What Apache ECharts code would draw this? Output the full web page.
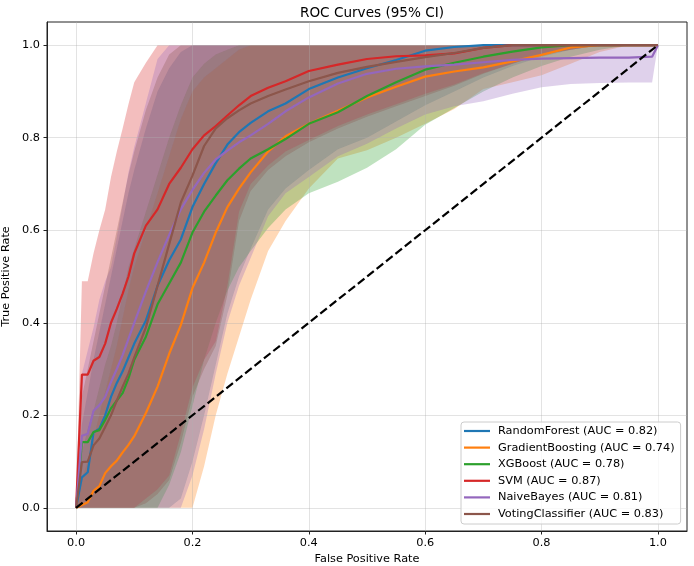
<!DOCTYPE html>
<html>
<head>
<meta charset="utf-8">
<script src="https://cdn.jsdelivr.net/npm/echarts@6/dist/echarts.min.js"></script>
<style>
  html, body { margin: 0; padding: 0; background: #fff; }
  #chart { width: 694px; height: 566px; }
</style>
</head>
<body>
<div id="chart"></div>
<script>
// common false positive rate grid
const fpr = [0, 0.01, 0.02, 0.03, 0.04, 0.05, 0.06, 0.07, 0.08, 0.09, 0.1, 0.12, 0.14, 0.16, 0.18, 0.2,
  0.22, 0.24, 0.26, 0.28, 0.3, 0.33, 0.36, 0.4, 0.45, 0.5, 0.55, 0.6, 0.65, 0.7, 0.75, 0.8, 0.85, 0.9, 0.95, 0.99, 1.0]

const models = ['RandomForest', 'GradientBoosting', 'XGBoost', 'SVM', 'NaiveBayes', 'VotingClassifier']
const aucs = [0.82, 0.74, 0.78, 0.87, 0.81, 0.83]

// mean TPR
const rfMean = [0, 0.066, 0.077, 0.163, 0.171, 0.20, 0.24, 0.27, 0.295, 0.325, 0.355, 0.405, 0.48, 0.535, 0.58, 0.65,
  0.70, 0.745, 0.785, 0.812, 0.832, 0.857, 0.874, 0.905, 0.93, 0.95, 0.968, 0.988, 0.996, 1, 1, 1, 1, 1, 1, 1, 1]
const gbMean = [0, 0.006, 0.012, 0.037, 0.047, 0.075, 0.09, 0.102, 0.12, 0.136, 0.155, 0.205, 0.262, 0.333, 0.395, 0.475,
  0.53, 0.595, 0.65, 0.69, 0.725, 0.77, 0.803, 0.83, 0.858, 0.887, 0.91, 0.932, 0.943, 0.952, 0.965, 0.979, 0.995, 1, 1, 1, 1]
const xgbMean = [0, 0.142, 0.142, 0.164, 0.168, 0.19, 0.215, 0.232, 0.248, 0.28, 0.32, 0.37, 0.44, 0.485, 0.53, 0.595,
  0.64, 0.675, 0.708, 0.733, 0.755, 0.775, 0.797, 0.83, 0.855, 0.89, 0.92, 0.947, 0.962, 0.975, 0.986, 0.995, 1, 1, 1, 1, 1]
const svmMean = [0, 0.288, 0.288, 0.318, 0.326, 0.355, 0.40, 0.43, 0.463, 0.50, 0.55, 0.61, 0.645, 0.70, 0.735, 0.775,
  0.805, 0.825, 0.848, 0.87, 0.89, 0.908, 0.922, 0.944, 0.958, 0.97, 0.976, 0.978, 0.982, 0.994, 1, 1, 1, 1, 1, 1, 1]
const nbMean = [0, 0.156, 0.16, 0.21, 0.222, 0.24, 0.272, 0.30, 0.33, 0.365, 0.40, 0.468, 0.531, 0.59, 0.645, 0.687,
  0.724, 0.753, 0.772, 0.79, 0.805, 0.83, 0.857, 0.887, 0.917, 0.938, 0.949, 0.954, 0.958, 0.963, 0.968, 0.971, 0.972, 0.973, 0.973, 0.975, 1]
const voteMean = [0, 0.099, 0.10, 0.135, 0.15, 0.175, 0.20, 0.232, 0.262, 0.29, 0.325, 0.39, 0.48, 0.57, 0.66, 0.718,
  0.782, 0.82, 0.842, 0.859, 0.874, 0.89, 0.904, 0.922, 0.94, 0.953, 0.964, 0.974, 0.983, 0.994, 1, 1, 1, 1, 1, 1, 1]

// 95% CI lower / upper
const rfLow = [0, 0, 0, 0, 0, 0, 0, 0, 0, 0, 0, 0, 0, 0, 0.02, 0.1,
  0.2, 0.31, 0.42, 0.5, 0.56, 0.645, 0.69, 0.73, 0.775, 0.8, 0.835, 0.87, 0.9, 0.93, 0.955, 0.975, 0.99, 1, 1, 1, 1]
const rfHigh = [0, 0.18, 0.25, 0.32, 0.38, 0.44, 0.5, 0.56, 0.62, 0.68, 0.73, 0.82, 0.9, 0.95, 0.985, 1,
  1, 1, 1, 1, 1, 1, 1, 1, 1, 1, 1, 1, 1, 1, 1, 1, 1, 1, 1, 1, 1]
const gbLow = [0, 0, 0, 0, 0, 0, 0, 0, 0, 0, 0, 0, 0, 0, 0, 0,
  0.09, 0.2, 0.29, 0.37, 0.45, 0.555, 0.62, 0.69, 0.755, 0.773, 0.8, 0.83, 0.862, 0.905, 0.92, 0.935, 0.96, 0.985, 1, 1, 1]
const gbHigh = [0, 0.06, 0.1, 0.15, 0.2, 0.25, 0.3, 0.35, 0.41, 0.47, 0.52, 0.6, 0.68, 0.76, 0.84, 0.9,
  0.93, 0.95, 0.97, 0.99, 1, 1, 1, 1, 1, 1, 1, 1, 1, 1, 1, 1, 1, 1, 1, 1, 1]
const xgbLow = [0, 0, 0, 0, 0, 0, 0, 0, 0, 0, 0, 0, 0, 0.05, 0.12, 0.22,
  0.32, 0.4, 0.47, 0.52, 0.555, 0.605, 0.645, 0.68, 0.705, 0.735, 0.775, 0.828, 0.864, 0.9, 0.93, 0.955, 0.975, 0.99, 1, 1, 1]
const xgbHigh = [0, 0.12, 0.17, 0.21, 0.26, 0.31, 0.35, 0.4, 0.46, 0.52, 0.56, 0.64, 0.72, 0.8, 0.87, 0.93,
  0.96, 0.98, 0.99, 1, 1, 1, 1, 1, 1, 1, 1, 1, 1, 1, 1, 1, 1, 1, 1, 1, 1]
const svmLow = [0, 0, 0, 0, 0, 0, 0, 0, 0, 0, 0, 0.02, 0.04, 0.07, 0.16, 0.26,
  0.32, 0.36, 0.48, 0.64, 0.7, 0.74, 0.77, 0.795, 0.825, 0.85, 0.872, 0.895, 0.915, 0.94, 0.96, 0.98, 0.99, 1, 1, 1, 1]
const svmHigh = [0, 0.49, 0.49, 0.55, 0.6, 0.645, 0.715, 0.77, 0.82, 0.872, 0.92, 0.962, 1, 1, 1, 1,
  1, 1, 1, 1, 1, 1, 1, 1, 1, 1, 1, 1, 1, 1, 1, 1, 1, 1, 1, 1, 1]
const nbLow = [0, 0, 0, 0, 0, 0, 0, 0, 0, 0, 0, 0, 0, 0, 0, 0.07,
  0.17, 0.29, 0.4, 0.48, 0.54, 0.63, 0.68, 0.715, 0.76, 0.787, 0.82, 0.85, 0.868, 0.879, 0.895, 0.909, 0.916, 0.918, 0.919, 0.919, 1]
const nbHigh = [0, 0.29, 0.34, 0.39, 0.45, 0.49, 0.52, 0.585, 0.655, 0.725, 0.78, 0.875, 0.97, 1, 1, 1,
  1, 1, 1, 1, 1, 1, 1, 1, 1, 1, 1, 1, 1, 1, 1, 1, 1, 1, 1, 1, 1]
const voteLow = [0, 0, 0, 0, 0, 0, 0, 0, 0, 0, 0, 0.01, 0.03, 0.06, 0.14, 0.24,
  0.3, 0.35, 0.46, 0.62, 0.685, 0.73, 0.76, 0.79, 0.82, 0.845, 0.868, 0.89, 0.912, 0.938, 0.96, 0.98, 0.99, 1, 1, 1, 1]
const voteHigh = [0, 0.24, 0.3, 0.36, 0.42, 0.48, 0.54, 0.6, 0.66, 0.72, 0.77, 0.86, 0.93, 0.98, 1, 1,
  1, 1, 1, 1, 1, 1, 1, 1, 1, 1, 1, 1, 1, 1, 1, 1, 1, 1, 1, 1, 1]

const diagX = [0, 1]
const diagY = [0, 1]
const xTicks = [0, 0.2, 0.4, 0.6, 0.8, 1.0]
const yTicks = [0, 0.2, 0.4, 0.6, 0.8, 1.0]

const means = [rfMean, gbMean, xgbMean, svmMean, nbMean, voteMean]
const lows = [rfLow, gbLow, xgbLow, svmLow, nbLow, voteLow]
const highs = [rfHigh, gbHigh, xgbHigh, svmHigh, nbHigh, voteHigh]

const colors = ['#1f77b4', '#ff7f0e', '#2ca02c', '#d62728', '#9467bd', '#8c564b']
const font = 'DejaVu Sans'

const labels = models.map((m, i) => m + ' (AUC = ' + aucs[i].toFixed(2) + ')')

function bandSeries(i) {
  const low = lows[i]
  const high = highs[i]
  return {
    type: 'custom',
    name: models[i] + ' CI',
    silent: true,
    z: 0,
    data: fpr.map((x, k) => [x, low[k], high[k]]),
    encode: { x: 0, y: [1, 2] },
    renderItem: (params, api) => {
      if (params.dataIndex !== 0) return null
      const pts = []
      for (let k = 0; k < fpr.length; k++) pts.push(api.coord([fpr[k], high[k]]))
      for (let k = fpr.length - 1; k >= 0; k--) pts.push(api.coord([fpr[k], low[k]]))
      return {
        type: 'polygon',
        shape: { points: pts },
        style: { fill: colors[i], opacity: 0.3, stroke: null }
      }
    }
  }
}

function lineSeries(i) {
  return {
    type: 'line',
    name: labels[i],
    data: fpr.map((x, k) => [x, means[i][k]]),
    symbol: 'none',
    showSymbol: false,
    lineStyle: { color: colors[i], width: 2.2 },
    itemStyle: { color: colors[i] },
    z: 2
  }
}

const axisCommon = {
  type: 'value',
  min: -0.05,
  max: 1.05,
  nameLocation: 'middle',
  nameTextStyle: { fontFamily: font, fontSize: 11.3, color: '#000' },
  axisLine: { show: true, onZero: false, lineStyle: { color: '#222', width: 1 } },
  splitLine: { show: true, lineStyle: { color: 'rgba(176,176,176,0.35)', width: 1 } },
  z: 1
}

const chart = echarts.init(document.getElementById('chart'))
chart.setOption({
  animation: false,
  title: {
    text: 'ROC Curves (95% CI)',
    left: 367,
    top: 1,
    textAlign: 'center',
    textStyle: { fontFamily: font, fontSize: 13.6, fontWeight: 'normal', color: '#000' }
  },
  grid: {
    left: 47, right: 7, top: 22, bottom: 35,
    containLabel: false,
    outerBoundsMode: 'none',
    show: true, borderColor: '#222', borderWidth: 1
  },
  legend: {
    data: labels,
    orient: 'vertical',
    left: 461,
    top: 422,
    icon: 'rect',
    itemWidth: 26,
    itemHeight: 2.2,
    itemGap: 2.6,
    padding: [2, 6, 3, 3],
    backgroundColor: 'rgba(255,255,255,0.8)',
    borderColor: '#cccccc',
    borderWidth: 1,
    borderRadius: 3,
    textStyle: { fontFamily: font, fontSize: 11.3, lineHeight: 14, color: '#000', padding: [0, 0, 0, 3] }
  },
  xAxis: Object.assign({}, axisCommon, {
    name: 'False Positive Rate',
    nameGap: 21,
    axisTick: { show: true, length: 3.5, customValues: xTicks, lineStyle: { color: '#222' } },
    axisLabel: { customValues: xTicks, formatter: v => v.toFixed(1), fontFamily: font, fontSize: 11.3, color: '#000', margin: 6.5 }
  }),
  yAxis: Object.assign({}, axisCommon, {
    name: 'True Positive Rate',
    nameGap: 30,
    axisTick: { show: true, length: 3.5, customValues: yTicks, lineStyle: { color: '#222' } },
    axisLabel: { customValues: yTicks, formatter: v => v.toFixed(1), fontFamily: font, fontSize: 11.3, color: '#000', margin: 7 }
  }),
  series: [
    ...models.map((m, i) => bandSeries(i)),
    ...models.map((m, i) => lineSeries(i)),
    {
      type: 'line',
      name: 'chance',
      data: diagX.map((x, k) => [x, diagY[k]]),
      symbol: 'none',
      lineStyle: { color: '#000', width: 2.2, type: [8.4, 3.6] },
      z: 3
    }
  ]
})
</script>
</body>
</html>
